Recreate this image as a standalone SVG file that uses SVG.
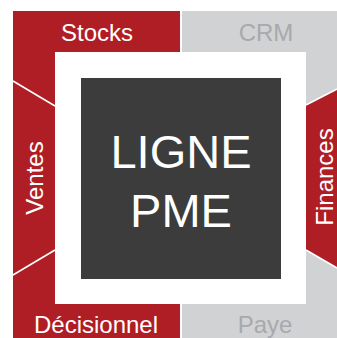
<svg xmlns="http://www.w3.org/2000/svg" width="337" height="338" viewBox="0 0 337 338">
<style>
.red{fill:#AF1E24}
.gray{fill:#D1D2D4}
.sep{stroke:#FFFFFF;stroke-width:1.6;fill:none}
.lbl{font-family:"Liberation Sans",Arial,sans-serif;font-size:24px;text-anchor:middle}
.lw{fill:#FFFFFF}
.lg{fill:#A8A9AC}
.big{font-family:"Liberation Sans",Arial,sans-serif;font-size:47px;text-anchor:middle;fill:#FFFFFF}
</style>
<rect width="337" height="338" fill="#FFFFFF"/>
<g id="stocks">
<polygon class="red" points="13,11 180,11 180,52 55,52 55,106 13,81"/>
<text class="lbl lw" x="97" y="40.5">Stocks</text>
</g>
<g id="crm">
<polygon class="gray" points="182,11 337,11 337,89 306,105 306,52 182,52"/>
<text class="lbl lg" x="266" y="40.5">CRM</text>
</g>
<g id="ventes">
<polygon class="red" points="13,81 55,106 55,250 13,275"/>
<text class="lbl lw" transform="translate(43,178) rotate(-90)">Ventes</text>
</g>
<g id="finances">
<polygon class="red" points="306,105 337,89 337,268 306,250"/>
<text class="lbl lw" transform="translate(332.5,177) rotate(-90)">Finances</text>
</g>
<g id="decisionnel">
<polygon class="red" points="13,275 55,250 55,304 180,304 180,338 13,338"/>
<text class="lbl lw" x="96" y="333">Décisionnel</text>
</g>
<g id="paye">
<polygon class="gray" points="182,304 306,304 306,250 337,268 337,338 182,338"/>
<text class="lbl lg" x="265" y="333">Paye</text>
</g>
<g id="separators">
<line class="sep" x1="13" y1="81" x2="55" y2="106"/>
<line class="sep" x1="13" y1="275" x2="55" y2="250"/>
<line class="sep" x1="306" y1="105" x2="337" y2="89"/>
<line class="sep" x1="306" y1="250" x2="337" y2="268"/>
</g>
<g id="center">
<rect x="81" y="78" width="200" height="201" fill="#3C3C3C"/>
<text class="big" x="181" y="168">LIGNE</text>
<text class="big" x="181" y="227">PME</text>
</g>
</svg>
